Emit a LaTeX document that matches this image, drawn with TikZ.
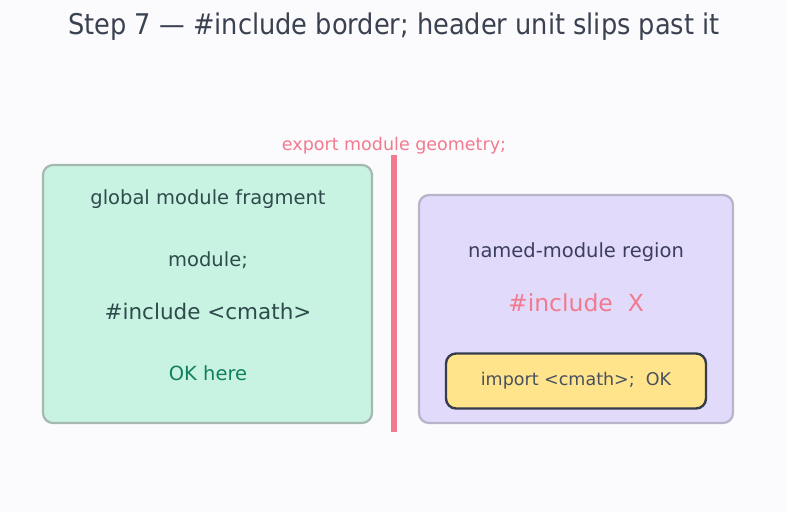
\documentclass[tikz,border=0pt]{standalone}
\usepackage{fontspec}
\setmainfont{DejaVu Sans}
\newfontfamily\titlefont{DejaVu Sans Condensed}
\usepackage{xcolor}
\usetikzlibrary{positioning,calc}

\definecolor{bgpaper}{HTML}{FBFBFD}
\definecolor{titleink}{HTML}{3A4150}
\definecolor{mintfill}{HTML}{C8F3E3}
\definecolor{mintedge}{HTML}{A5B8B1}
\definecolor{lavfill}{HTML}{E1DAFB}
\definecolor{lavedge}{HTML}{B7B3C9}
\definecolor{slateink}{HTML}{2E4A4A}
\definecolor{navyink}{HTML}{3B3D5C}
\definecolor{borderred}{HTML}{F27A8F}
\definecolor{okgreen}{HTML}{12805C}
\definecolor{hufill}{HTML}{FFE48C}
\definecolor{huedge}{HTML}{353D4D}

\begin{document}
\begin{tikzpicture}[
  x=1pt, y=-1pt,
  region/.style={draw, rounded corners=10pt, line width=2.2pt, inner sep=0pt},
  hunit/.style={draw=huedge, fill=hufill, rounded corners=10pt, line width=2.4pt,
    minimum width=260pt, minimum height=55pt, font=\fontsize{17.5}{20}\selectfont, text=huedge!90},
  txt/.style={font=\fontsize{19.5}{23}\selectfont, inner sep=0pt},
  border/.style={draw=borderred, line width=6pt}
]
\useasboundingbox[fill=bgpaper] (0,0) rectangle (787,512);

% TITLE
\node[font=\titlefont\fontsize{28.5}{32}\selectfont, text=titleink] (title) at (394,27)
  {Step 7 — \#include border; header unit slips past it};

% GLOBAL MODULE FRAGMENT
\node[region, draw=mintedge, fill=mintfill, minimum width=329pt, minimum height=258pt] (gmf) at (207.5,294) {};
\node[txt, text=slateink] (gmftitle) at (208,199.5) {global module fragment};
\node[txt, text=slateink] (modsemi) at (208,260.5) {module;};
\node[txt, text=slateink, font=\fontsize{21.5}{25}\selectfont] (inclcmath) at (208,311) {\#include <cmath>};
\node[txt, text=okgreen] (okhere) at (208,373) {OK here};

% BORDER
\coordinate (bordertop) at (394,155);
\coordinate (borderbot) at (394,432);
\draw[border] (bordertop) -- (borderbot);
\node[above=1pt of bordertop, inner sep=0pt, text=borderred, font=\fontsize{17.5}{20}\selectfont] (exportlbl) {export module geometry;};

% NAMED MODULE REGION
\node[region, draw=lavedge, fill=lavfill, minimum width=314pt, minimum height=228pt] (nmr) at (576,309) {};
\node[txt, text=navyink] (nmrtitle) at (576,252.5) {named-module region};
\node[txt, text=borderred, font=\fontsize{23.5}{27}\selectfont] (inclx) at (576,303) {\#include\ \ X};
\node[hunit] (importcm) at (576,381) {import <cmath>;\ \ OK};

\end{tikzpicture}
\end{document}
